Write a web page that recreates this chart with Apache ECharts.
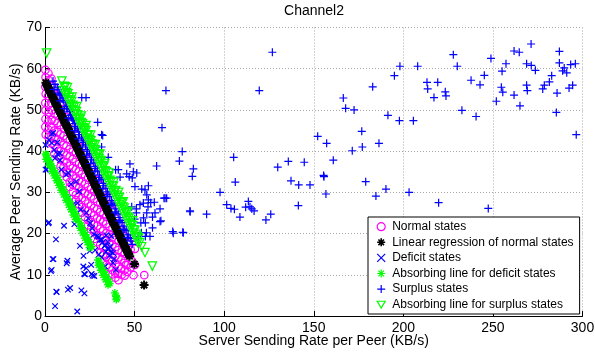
<!DOCTYPE html>
<html>
<head>
<meta charset="utf-8">
<title>Channel2</title>
<script src="https://cdn.jsdelivr.net/npm/echarts@6/dist/echarts.min.js"></script>
<style>
  html, body { margin: 0; padding: 0; background: #fff; }
  #chart { width: 595px; height: 353px; }
</style>
</head>
<body>
<div id="chart"></div>
<script>
// ---- chart text ----
const chartTitle = 'Channel2';
const xAxisName = 'Server Sending Rate per Peer (KB/s)';
const yAxisName = 'Average Peer Sending Rate (KB/s)';
const seriesNames = [
  'Normal states',
  'Linear regression of normal states',
  'Deficit states',
  'Absorbing line for deficit states',
  'Surplus states',
  'Absorbing line for surplus states'
];

// ---- axis ranges / ticks ----
const xMin = 0, xMax = 300, xStep = 50;
const yMin = 0, yMax = 70, yStep = 10;

// ---- data: [server rate per peer, average peer rate] ----
const normalStates = [
  [0.2,59.7],[0.3,57.9],[0.2,55.6],[0.4,53.9],[0.2,51.7],[0.3,49.9],[0.3,47.8],[0.2,45.9],[0.4,44.0],
  [1.9,58.9],[2.0,57.2],[1.8,53.4],[1.9,51.2],[2.1,49.4],[1.9,47.2],[1.9,45.2],[2.0,43.4],
  [3.6,57.6],[3.7,55.9],[3.5,51.7],[3.6,49.9],[3.7,47.6],[3.5,45.9],[3.6,43.7],[3.7,41.9],
  [5.3,55.4],[5.2,53.9],[5.4,49.1],[5.3,47.3],[5.2,45.0],[5.4,43.3],[5.3,41.3],[5.2,39.4],
  [7.0,53.3],[7.1,48.6],[6.9,46.8],[7.0,44.6],[7.1,42.8],[6.9,40.6],[7.0,38.8],
  [8.7,51.1],[8.8,46.3],[8.6,44.1],[8.7,42.3],[8.8,40.0],[8.6,38.3],[8.7,36.3],
  [10.4,50.2],[10.5,45.5],[10.3,43.7],[10.4,41.5],[10.5,39.7],[10.3,37.5],[10.4,36.2],[10.4,34.7],
  [12.1,48.2],[12.2,43.0],[12.0,41.2],[12.1,39.0],[12.2,37.2],[12.0,35.0],[12.1,33.7],
  [13.8,47.0],[13.9,42.7],[13.7,40.5],[13.8,38.7],[13.9,36.5],[13.7,34.7],[13.8,32.5],[13.8,31.3],
  [15.5,45.1],[15.6,39.9],[15.4,38.1],[15.5,35.9],[15.6,34.1],[15.4,31.9],[15.5,30.1],
  [17.2,43.9],[17.3,39.6],[17.1,37.4],[17.2,35.6],[17.3,33.4],[17.1,31.6],[17.2,29.4],[17.3,28.1],
  [18.9,42.1],[19.0,36.9],[18.8,35.1],[18.9,32.9],[19.0,31.1],[18.8,28.9],[18.9,27.1],
  [20.6,40.9],[20.7,36.6],[20.5,34.4],[20.6,32.6],[20.7,30.4],[20.5,28.6],[20.6,26.4],[20.7,25.1],
  [22.3,39.0],[22.4,33.8],[22.2,32.0],[22.3,29.8],[22.4,28.0],[22.2,25.8],[22.3,24.0],
  [24.0,37.8],[24.1,33.5],[23.9,31.3],[24.0,29.5],[24.1,27.3],[23.9,25.5],[24.0,23.3],[24.1,22.0],
  [25.7,36.0],[25.8,30.8],[25.6,29.0],[25.7,26.8],[25.8,25.0],[25.6,22.8],[25.7,21.0],
  [27.4,34.9],[27.5,30.2],[27.3,28.4],[27.4,26.2],[27.5,24.4],[27.3,22.2],[27.4,20.4],[27.5,18.7],
  [29.1,32.9],[29.2,27.7],[29.0,25.9],[29.1,23.7],[29.2,21.9],[29.0,19.7],[29.1,17.9],
  [30.8,31.7],[30.9,27.4],[30.7,25.2],[30.8,23.4],[30.9,21.2],[30.7,19.4],[30.8,17.2],[30.9,15.4],
  [32.5,29.9],[32.6,24.7],[32.4,22.9],[32.5,20.7],[32.6,18.9],[32.4,16.7],[32.5,14.9],[32.6,13.4],
  [34.2,28.8],[34.3,24.1],[34.1,22.3],[34.2,20.1],[34.3,18.3],[34.1,16.1],[34.2,14.3],[34.3,12.4],
  [35.9,26.8],[36.0,21.6],[35.8,19.8],[35.9,17.6],[36.0,15.8],[35.8,13.6],[35.9,11.8],
  [37.6,25.6],[37.7,21.3],[37.5,19.1],[37.6,17.3],[37.7,15.1],[37.5,13.3],[37.6,11.1],[37.7,10.1],
  [39.3,23.7],[39.4,18.5],[39.2,16.7],[39.3,14.5],[39.4,12.7],[39.2,10.5],[39.3,9.3],
  [41.0,22.5],[41.1,18.2],[40.9,16.0],[41.0,14.2],[41.1,12.0],[40.9,10.2],[41.0,8.7],
  [42.7,20.7],[42.8,15.5],[42.6,13.7],[42.7,11.5],[42.8,10.0],
  [44.4,19.4],[44.5,15.1],[44.3,12.9],[44.4,11.1],[44.5,9.8],
  [46.1,17.6],[46.2,12.4],[46.0,10.7],
  [47.8,16.1],[47.9,11.8],
  [48.4,18.9],[48.6,13.3],[49.4,9.9],[50.2,16.3],[50.2,12.4],[55.4,9.9],[45.2,12.4]
];

const regressionLine = [
  [0.5,56.6],[0.9,56.2],[1.3,55.8],[1.7,55.5],[2.0,55.2],[2.4,54.8],[2.8,54.5],[3.2,54.1],[3.5,53.9],
  [3.9,53.5],[4.3,53.1],[4.7,52.8],[5.0,52.5],[5.4,52.1],[5.8,51.8],[6.2,51.4],[6.6,51.1],[7.0,50.7],
  [7.3,50.4],[7.7,50.1],[8.1,49.7],[8.5,49.4],[8.9,49.0],[9.3,48.6],[9.6,48.4],[10.0,48.0],[10.4,47.6],
  [10.8,47.3],[11.2,46.9],[11.6,46.6],[11.9,46.3],[12.3,45.9],[12.7,45.6],[13.1,45.2],[13.5,44.9],
  [13.9,44.5],[14.2,44.2],[14.6,43.9],[15.0,43.5],[15.4,43.1],[15.8,42.8],[16.2,42.4],[16.5,42.2],
  [16.9,41.8],[17.3,41.4],[17.7,41.1],[18.1,40.7],[18.5,40.4],[18.8,40.1],[19.2,39.7],[19.6,39.4],
  [20.0,39.0],[20.4,38.6],[20.8,38.3],[21.1,38.0],[21.5,37.7],[21.9,37.3],[22.3,36.9],[22.7,36.6],
  [23.1,36.2],[23.4,35.9],[23.8,35.6],[24.2,35.2],[24.6,34.9],[25.0,34.5],[25.4,34.1],[25.7,33.9],
  [26.1,33.5],[26.5,33.2],[26.9,32.8],[27.3,32.4],[27.7,32.1],[28.0,31.8],[28.4,31.4],[28.8,31.1],
  [29.2,30.7],[29.6,30.4],[30.0,30.0],[30.3,29.7],[30.7,29.4],[31.1,29.0],[31.5,28.7],[31.9,28.3],
  [32.3,27.9],[32.6,27.7],[33.0,27.3],[33.4,26.9],[33.8,26.6],[34.2,26.2],[34.6,25.9],[34.9,25.6],
  [35.3,25.2],[35.7,24.9],[36.1,24.5],[36.5,24.2],[36.9,23.8],[37.2,23.5],[37.6,23.2],[38.0,22.8],
  [38.4,22.4],[38.8,22.1],[39.2,21.7],[39.5,21.5],[39.9,21.1],[40.3,20.7],[40.7,20.4],[41.1,20.0],
  [41.5,19.7],[41.8,19.4],[42.2,19.0],[42.6,18.7],[43.0,18.3],[43.4,17.9],[43.8,17.6],[44.1,17.3],
  [44.5,17.0],[44.9,16.6],[45.3,16.2],[45.7,15.9],[46.1,15.5],[46.4,15.2],[46.8,14.9],[47.2,14.5],
  [49.9,12.6],[55.3,7.5]
];

const deficitStates = [
  [3.7,44.2],[4.6,44.4],[0.3,41.5],[2.2,42.7],[3.7,42.0],[6.9,42.1],[5.2,40.3],[8.4,39.5],[7.0,39.3],
  [5.6,38.3],[8.4,37.8],[1.3,36.9],[0.3,35.5],[0.9,35.5],[9.1,35.5],[13.0,34.7],[11.8,34.3],
  [14.5,32.0],[17.3,32.6],[19.1,30.2],[12.7,28.6],[15.5,27.0],[18.2,27.4],[20.0,25.8],
  [2.2,22.7],[1.9,22.5],[10.6,21.9],[16.4,22.3],[6.1,18.6],[4.7,13.8],[4.3,13.8],[12.1,12.8],
  [3.7,11.2],[3.3,10.9],[12.5,13.4],[21.4,12.0],[23.0,11.6],[21.9,10.2],[22.3,10.1],[26.6,9.8],
  [27.5,9.7],[25.8,12.4],[33.5,12.0],[6.5,5.8],[6.3,5.9],[12.8,6.4],[14.0,6.8],[20.3,6.2],[22.0,5.5],
  [5.6,2.4],[18.0,1.1],
  [23.0,25.1],[24.1,23.7],[25.2,22.5],[26.3,21.3],[27.3,19.8],[29.1,19.4],[30.7,18.5],[33.4,17.0],
  [35.2,16.2],[37.0,15.5],[28.0,16.0],[30.0,14.9],[31.6,14.3],[37.0,19.4],[35.0,18.0],
  [19.5,17.0],[21.5,14.6],[25.0,15.8],[30.0,19.2],[32.0,17.8],[34.0,15.6],[36.0,14.6],[38.6,13.8],
  [26.0,10.2],[31.6,18.5],[33.5,17.2],[35.5,16.4],[38.0,15.3],[38.0,12.9],[39.5,11.2],[36.3,16.8],
  [34.2,19.6]
];

const deficitAbsorbing = [
  [0.4,39.3],[0.8,39.0],[1.3,38.3],[1.9,37.9],[2.5,37.5],[3.0,36.8],[3.6,36.4],[4.2,35.9],[4.9,35.2],
  [5.5,34.8],[6.2,34.1],[6.8,33.6],[7.5,33.1],[8.1,32.4],[8.8,31.9],[9.4,31.4],[10.1,30.6],[10.8,30.2],
  [11.4,29.5],[12.1,28.9],[12.9,28.4],[13.6,27.6],[14.2,27.2],[14.9,26.4],[15.5,26.0],[16.2,25.3],
  [16.8,24.9],[17.5,24.3],[18.1,23.6],[19.4,22.6],[20.0,22.0],[20.7,21.5],[21.3,20.8],[22.0,20.3],
  [22.6,19.7],[23.3,19.1],[23.9,18.5],[24.6,18.0],[25.2,17.4],[25.9,16.8],[29.6,13.6],[30.3,12.9],
  [30.9,12.5],[31.6,11.8],[32.2,11.3],[32.9,10.7],[33.5,10.1],[34.2,9.6],[34.8,9.0],[35.5,8.4],
  [36.1,7.9],[39.0,5.6],[39.6,4.8],[40.1,4.4],
  [0.6,38.0],[2.2,36.6],[3.9,35.1],[5.2,34.0],[6.5,32.8],[7.8,31.7],[9.1,30.5],[10.4,29.4],
  [11.8,28.1],[13.2,26.9],[14.5,25.8],[15.9,24.5],[17.2,23.4],[19.7,21.3],[21.0,20.1],[22.3,18.9],
  [23.6,17.8],[24.9,16.6],[29.9,12.3],[31.2,11.1],[32.5,9.9],[33.8,8.8],[35.2,7.6],[39.8,4.0]
];

const surplusStates = [
  // band just above the regression line
  [4.5,57.0],[5.6,56.2],[6.8,55.5],[7.9,54.1],[9.0,53.6],[10.2,52.3],[11.3,51.9],[12.4,50.3],
  [13.6,49.6],[14.7,48.1],[15.8,47.5],[17.0,46.0],[18.1,45.6],[19.2,44.0],[20.4,43.4],[21.5,42.1],
  [22.6,41.5],[23.8,40.0],[24.9,39.4],[26.0,37.9],[27.2,37.3],[28.3,35.8],[29.4,35.2],[30.6,33.6],
  [31.7,33.2],[32.8,31.6],[34.0,31.0],[35.1,29.5],[36.2,29.0],[37.4,27.4],[38.5,26.9],[39.6,25.3],
  [40.8,24.8],[41.9,23.2],[43.0,22.7],[44.2,21.1],[45.3,20.7],[46.4,19.1],[47.6,18.8],[48.7,17.4],
  [5.0,55.0],[8.4,52.2],[10.8,50.3],[13.0,48.0],[16.4,45.0],[18.6,43.0],[21.0,41.0],[23.2,39.0],
  [25.5,37.0],[27.8,35.0],[30.0,33.0],[32.3,31.0],[34.5,29.0],[36.8,27.0],[39.0,25.0],[41.3,23.0],
  [43.6,21.0],[45.9,19.0],
  [7.3,54.9],[9.6,52.9],[11.9,50.8],[14.2,48.7],[16.5,46.7],[18.8,44.6],[21.1,42.5],[23.4,40.4],
  [25.7,38.4],[28.0,36.3],[30.3,34.2],[32.6,32.2],[34.9,30.1],[37.2,28.0],[39.5,26.0],[41.8,23.9],
  [44.1,21.8],[46.4,19.7],[48.1,18.2],
  // scattered near the absorbing line
  [8.4,53.7],[14.0,50.0],[15.5,47.8],[20.5,53.0],[22.9,53.0],[29.4,47.0],[31.6,44.0],[32.2,43.8],
  [31.6,41.0],[35.3,38.5],[39.4,35.5],[40.9,35.5],[41.9,33.7],[45.6,34.5],[47.4,36.9],[49.3,35.0],
  [51.2,34.7],[47.0,33.8],[48.7,33.5],[50.2,31.4],[54.0,30.8],[55.8,30.6],[57.7,31.6],[56.8,29.4],
  [57.7,28.2],[54.9,27.4],[59.0,27.5],[61.0,27.6],[51.0,25.0],[56.8,25.0],[61.4,25.0],[64.2,22.9],
  [52.0,19.3],[56.0,19.3],[58.6,19.3],[53.8,20.2],[56.6,20.2],[53.5,22.6],[56.0,22.6],[60.0,21.4],
  [48.4,26.5],[51.0,26.0],[53.0,27.0],[57.5,26.5],[60.0,24.0],[50.0,23.5],[55.0,23.8],[62.3,36.4],
  [65.3,45.7],[67.5,54.7],[67.0,28.6],[67.9,28.6],[66.4,28.6],[64.2,26.0],[64.7,23.1],[71.3,20.5],
  [76.9,20.3],[71.6,20.1],[81.0,25.3],[90.2,24.7],[75.0,37.6],[76.6,39.9],[82.8,35.7],[82.2,33.9],
  // spread out over higher server rates
  [126.9,64.0],[119.6,54.7],[166.5,52.9],[167.8,50.4],[172.5,50.0],[182.9,55.6],[195.0,58.3],
  [198.1,60.6],[208.0,60.6],[191.4,48.7],[197.8,47.4],[205.6,47.4],[213.2,56.7],[213.6,55.1],
  [219.2,56.7],[217.1,53.0],[223.4,54.4],[223.8,53.4],[227.9,63.4],[230.1,60.6],[232.7,49.9],
  [237.8,57.2],[240.6,48.4],[242.8,56.1],[245.2,58.4],[248.9,62.5],[251.9,52.1],[255.1,59.4],
  [254.7,55.5],[255.5,54.3],[257.3,61.2],[261.8,53.6],[265.1,51.0],[261.8,64.3],[264.7,64.0],
  [268.8,61.2],[268.8,56.0],[269.2,54.7],[271.3,66.0],[271.4,60.8],[273.7,59.6],[277.8,55.1],
  [278.7,56.0],[281.5,56.8],[282.8,58.3],[285.8,54.1],[285.4,49.4],[287.1,64.2],[287.1,61.4],
  [288.9,59.5],[289.8,60.2],[291.2,59.0],[292.5,55.3],[294.5,56.0],[293.4,61.0],[296.0,61.2],
  [296.5,44.0],
  [152.2,43.6],[157.2,41.9],[176.8,44.8],[186.4,41.9],[177.1,41.0],[171.5,40.1],[160.9,37.8],
  [155.5,34.1],[105.3,38.5],[129.9,36.1],[135.8,37.5],[144.7,37.3],
  [106.2,32.5],[137.3,32.8],[141.6,31.8],[147.9,31.8],[155.7,33.8],[156.8,29.6],[179.0,32.6],
  [184.7,29.1],[190.3,30.8],[203.2,30.0],[219.7,27.5],[247.4,26.1],[97.7,30.0],[101.4,27.0],
  [103.8,26.1],[105.7,25.9],[108.8,24.0],[112.0,26.4],[113.5,27.8],[114.4,26.5],[115.4,26.0],
  [116.7,25.5],[123.3,23.3],[126.0,24.7],[141.4,26.8],[80.9,25.5],[77.2,20.2]
];

const surplusAbsorbing = [
  [0.9,63.8],[9.4,57.0],[10.6,55.7],[11.3,55.6],[12.0,54.2],[12.8,53.9],[13.5,53.0],[14.1,52.4],
  [14.9,52.0],[15.5,51.1],[16.2,50.6],[16.9,49.7],[17.5,49.6],[18.2,48.8],[18.9,48.0],[19.6,47.7],
  [20.2,46.9],[20.9,46.6],[21.6,45.7],[22.2,45.1],[22.9,44.9],[23.6,43.9],[24.2,43.9],[24.9,42.8],
  [25.6,42.5],[26.2,41.7],[26.9,41.4],[27.6,40.4],[28.2,40.3],[28.9,39.3],[29.6,39.1],[30.2,38.2],
  [30.9,37.7],[31.5,37.6],[32.2,36.5],[32.9,36.3],[33.5,35.2],[34.2,35.0],[34.9,34.0],[35.5,33.9],
  [36.2,32.9],[36.9,32.6],[37.5,31.6],[38.2,31.5],[38.9,30.3],[39.5,30.4],[40.2,29.3],[40.9,28.8],
  [41.5,28.7],[42.2,27.5],[42.9,27.4],[43.5,26.4],[44.2,26.2],[44.9,25.2],[45.5,25.0],[46.2,24.0],
  [46.9,23.7],[47.5,23.1],[48.2,22.1],[48.9,21.9],[49.5,20.9],[50.2,20.8],[50.9,19.8],[51.5,19.3],
  [52.2,18.9],[53.0,17.8],[53.9,16.8],[55.8,15.4],[59.9,12.1],
  [10.2,54.7],[11.5,53.5],[12.8,52.4],[14.1,51.2],[15.4,50.0],[16.7,48.9],[18.0,47.7],[19.3,46.6],
  [20.6,45.4],[21.9,44.3],[23.2,43.1],[24.5,42.0],[25.8,40.8],[27.1,39.7],[28.4,38.5],[29.7,37.4],
  [31.0,36.2],[32.3,35.1],[33.6,33.9],[34.9,32.7],[36.2,31.6],[37.5,30.4],[38.8,29.3],[40.1,28.1],
  [41.4,27.0],[42.7,25.8],[44.0,24.7],[45.3,23.5],[46.6,22.4],[47.9,21.2],[49.2,20.1],[50.5,18.9],
  [51.8,17.8],
  [12.5,55.4],[15.1,53.1],[17.7,50.8],[20.3,48.5],[22.9,46.2],[25.5,43.9],[28.1,41.6],[30.7,39.3],
  [33.3,37.0],[35.9,34.7],[38.5,32.4],[41.1,30.0],[43.7,27.7],[46.3,25.4],[48.9,23.1]
];

// ---- marker shapes (stroked outlines) ----
const SYM_PLUS = 'path://M5,0L5,10M0,5L10,5';
const SYM_CROSS = 'path://M0,0L10,10M10,0L0,10';
const SYM_STAR = 'path://M5,0L5,10M0,5L10,5M1.5,1.5L8.5,8.5M8.5,1.5L1.5,8.5';
const SYM_TRI = 'path://M0,0L10,0L5,8.66Z';

const FONT = '"Liberation Sans", Arial, Helvetica, sans-serif';

function markerSeries(name, data, symbol, size, color, width) {
  return {
    name: name,
    type: 'scatter',
    data: data,
    symbol: symbol,
    symbolSize: size,
    clip: false,
    itemStyle: { color: 'transparent', borderColor: color, borderWidth: width, opacity: 1 },
    emphasis: { disabled: true },
    animation: false
  };
}

const seriesList = [
  markerSeries(seriesNames[0], normalStates, 'circle', 7.5, '#ff00ff', 1.2),
  markerSeries(seriesNames[1], regressionLine, SYM_STAR, 9, '#000000', 2),
  markerSeries(seriesNames[2], deficitStates, SYM_CROSS, 5.5, '#0000ff', 1.2),
  markerSeries(seriesNames[3], deficitAbsorbing, SYM_STAR, 8, '#00ff00', 1.4),
  markerSeries(seriesNames[4], surplusStates, SYM_PLUS, 8, '#0000ff', 1.2),
  markerSeries(seriesNames[5], surplusAbsorbing, SYM_TRI, 8.5, '#00ff00', 1.2)
];

const legendIcons = ['circle', SYM_STAR, SYM_CROSS, SYM_STAR, SYM_PLUS, SYM_TRI];
const legendColors = ['#ff00ff', '#000000', '#0000ff', '#00ff00', '#0000ff', '#00ff00'];

const chart = echarts.init(document.getElementById('chart'), null, { renderer: 'canvas' });

chart.setOption({
  backgroundColor: '#ffffff',
  animation: false,
  textStyle: { fontFamily: FONT },
  title: {
    text: chartTitle,
    left: 314,
    textAlign: 'center',
    top: 4,
    padding: 0,
    textStyle: { fontFamily: FONT, fontSize: 14, fontWeight: 'normal', color: '#000' }
  },
  grid: { left: 45, right: 12.5, top: 27.5, bottom: 37, containLabel: false, outerBoundsMode: 'none' },
  xAxis: {
    type: 'value',
    min: xMin, max: xMax, interval: xStep,
    name: xAxisName,
    nameLocation: 'middle',
    nameGap: 18,
    nameMoveOverlap: false,
    nameTextStyle: { fontFamily: FONT, fontSize: 14, color: '#000' },
    axisLine: { show: true, onZero: false, lineStyle: { color: '#000', width: 1 } },
    axisTick: { show: true, inside: true, length: 5, lineStyle: { color: '#000' } },
    axisLabel: { fontFamily: FONT, fontSize: 14, color: '#000', margin: 5 },
    splitLine: { show: true, lineStyle: { color: '#a8a8a8', type: [1, 2], width: 1 } }
  },
  yAxis: {
    type: 'value',
    min: yMin, max: yMax, interval: yStep,
    name: yAxisName,
    nameLocation: 'middle',
    nameGap: 22,
    nameMoveOverlap: false,
    nameTextStyle: { fontFamily: FONT, fontSize: 14, color: '#000' },
    axisLine: { show: true, onZero: false, lineStyle: { color: '#000', width: 1 } },
    axisTick: { show: true, inside: true, length: 5, lineStyle: { color: '#000' } },
    axisLabel: { fontFamily: FONT, fontSize: 14, color: '#000', margin: 3 },
    splitLine: { show: true, lineStyle: { color: '#a8a8a8', type: [1, 2], width: 1 } }
  },
  legend: {
    orient: 'vertical',
    left: 368,
    top: 217,
    padding: [3.7, 6, 3.3, 8.4],
    itemGap: 3.6,
    itemWidth: 8,
    itemHeight: 8,
    backgroundColor: '#ffffff',
    borderColor: '#000000',
    borderWidth: 1,
    selectedMode: false,
    textStyle: { fontFamily: FONT, fontSize: 12, color: '#000', lineHeight: 12, padding: [0, 0, 0, 2] },
    data: seriesNames.map((n, i) => ({
      name: n,
      icon: legendIcons[i],
      itemStyle: { color: 'transparent', borderColor: legendColors[i], borderWidth: i === 1 ? 1.6 : 1.2 }
    }))
  },
  series: seriesList
});
</script>
</body>
</html>
